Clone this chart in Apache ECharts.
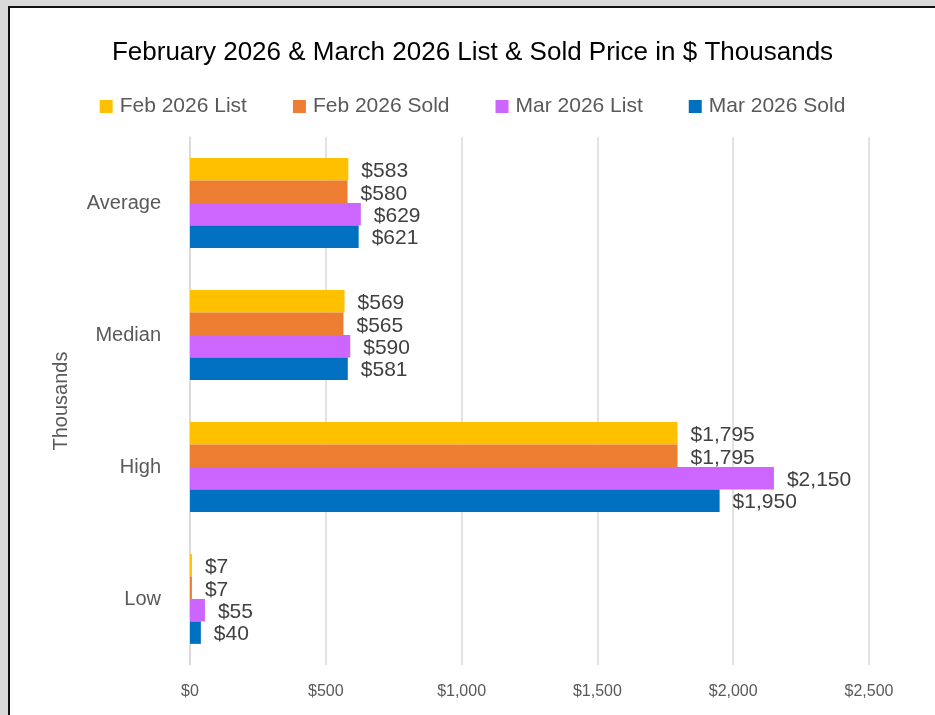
<!DOCTYPE html>
<html>
<head>
<meta charset="utf-8">
<script src="https://cdn.jsdelivr.net/npm/echarts@6/dist/echarts.min.js"></script>
<style>
  html, body { margin: 0; padding: 0; background: #d9d9d9; overflow: hidden; }
  #chart {
    position: absolute; left: 8px; top: 6px;
    width: 927px; height: 709px;
    box-sizing: border-box;
    background: #fff;
    border-top: 2px solid #111;
    border-left: 2px solid #111;
  }
</style>
</head>
<body>
<div id="chart"></div>
<script>
const categories = ['Average', 'Median', 'High', 'Low'];
const seriesNames = ['Feb 2026 List', 'Feb 2026 Sold', 'Mar 2026 List', 'Mar 2026 Sold'];
const febList = [583, 569, 1795, 7];
const febSold = [580, 565, 1795, 7];
const marList = [629, 590, 2150, 55];
const marSold = [621, 581, 1950, 40];
const colors = ['#FFC000', '#ED7D31', '#CC66FF', '#0070C0'];

const font = '"Liberation Sans", Arial, sans-serif';
const money = v => '$' + Number(v).toLocaleString('en-US');

const chart = echarts.init(document.getElementById('chart'));

const seriesData = [febList, febSold, marList, marSold];
chart.setOption({
  animation: false,
  textStyle: { fontFamily: font },
  title: {
    text: 'February 2026 & March 2026 List & Sold Price in $ Thousands',
    left: 'center',
    top: 27,
    textStyle: { fontFamily: font, fontSize: 26, fontWeight: 'normal', color: '#000' }
  },
  legend: {
    top: 83,
    left: 'center',
    icon: 'rect',
    itemWidth: 13,
    itemHeight: 13,
    itemGap: 46,
    textStyle: { fontFamily: font, fontSize: 21, color: '#595959', padding: [0, 0, 0, 2] },
    data: seriesNames
  },
  grid: { left: 180, right: 66, top: 129, bottom: 50 },
  xAxis: {
    type: 'value',
    min: 0,
    max: 2500,
    interval: 500,
    axisLine: { show: false },
    axisTick: { show: false },
    axisLabel: { formatter: money, fontSize: 16, color: '#595959', margin: 19, fontFamily: font },
    splitLine: { lineStyle: { color: '#d9d9d9', width: 1.5 } }
  },
  yAxis: {
    type: 'category',
    inverse: true,
    data: categories,
    name: 'Thousands',
    nameLocation: 'middle',
    nameRotate: 90,
    nameGap: 119,
    nameTextStyle: { fontSize: 20, color: '#595959', fontFamily: font },
    axisLine: { lineStyle: { color: '#d9d9d9', width: 1.5 } },
    axisTick: { show: false },
    axisLabel: { fontSize: 20, color: '#595959', margin: 29, fontFamily: font }
  },
  series: seriesNames.map((name, i) => ({
    name: name,
    type: 'bar',
    data: seriesData[i],
    itemStyle: { color: colors[i] },
    barGap: '0%',
    barCategoryGap: '32%',
    label: {
      show: true,
      position: 'right',
      distance: 13,
      offset: [0, 2],
      formatter: p => money(p.value),
      fontSize: 21,
      color: '#404040',
      fontFamily: font
    }
  }))
});
</script>
</body>
</html>
